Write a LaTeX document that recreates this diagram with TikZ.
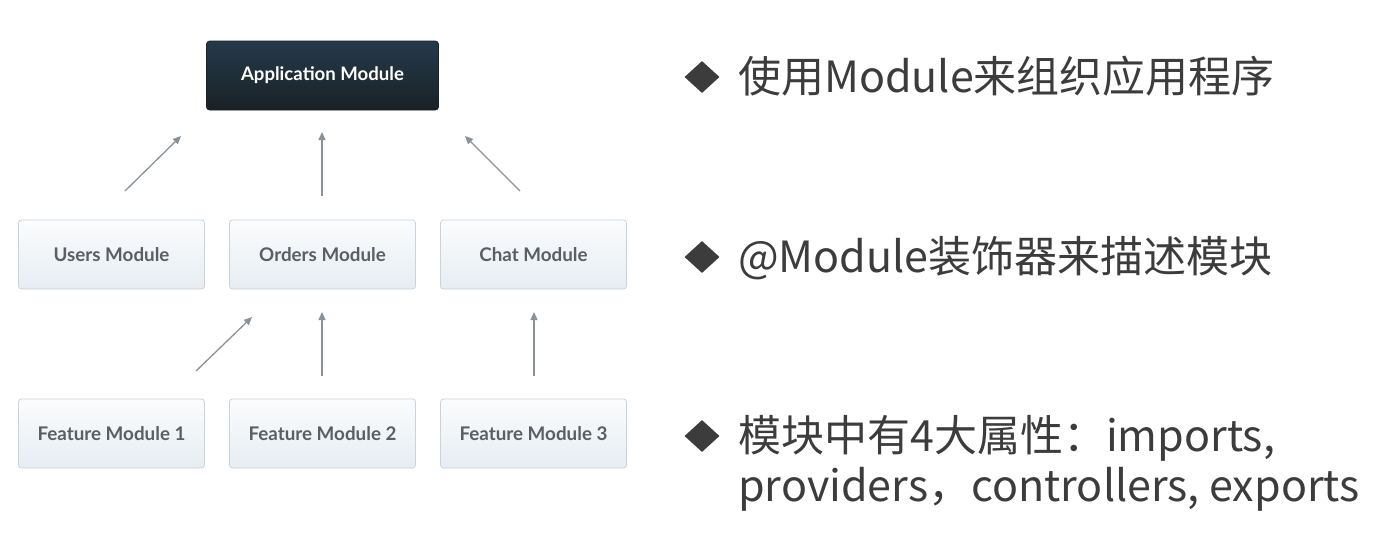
\documentclass[tikz,border=0pt]{standalone}
\usepackage{fontspec}
\usetikzlibrary{arrows.meta,shapes.geometric}
\newfontfamily\boxfont{Lato}
\newfontfamily\cjkfont{Noto Sans CJK SC}
\definecolor{boxline}{HTML}{C9D3DB}
\definecolor{boxtop}{HTML}{FBFCFD}
\definecolor{boxbot}{HTML}{E6EDF2}
\definecolor{boxtext}{HTML}{595F65}
\definecolor{apptop}{HTML}{243A4A}
\definecolor{appbot}{HTML}{1A2126}
\definecolor{arrowcol}{HTML}{8A9299}
\definecolor{bodytext}{HTML}{3C3C3C}
\tikzset{
  modbox/.style={rectangle, rounded corners=3pt, draw=boxline, line width=0.8pt,
    top color=boxtop, bottom color=boxbot, minimum width=186pt, minimum height=69pt,
    inner sep=0pt, text=boxtext, font=\boxfont\bfseries\fontsize{18.8}{21}\selectfont},
  appbox/.style={rectangle, rounded corners=3pt, draw=appbot, line width=0.6pt,
    top color=apptop, bottom color=appbot, minimum width=232pt, minimum height=69pt,
    inner sep=0pt, text=white, font=\boxfont\bfseries\fontsize{18.6}{21}\selectfont},
  upar/.style={draw=arrowcol, line width=1.3pt, -{Triangle[length=8pt,width=7pt]}},
  bullet/.style={diamond, fill=bodytext, inner sep=0pt, minimum width=35pt, minimum height=32pt},
  bodyline/.style={anchor=base west, inner sep=0pt, text=bodytext, font=\cjkfont\fontsize{43}{48}\selectfont}
}
\begin{document}
\begin{tikzpicture}[x=1pt,y=-1pt]
\useasboundingbox (0,0) rectangle (1378,550);
\fill[white] (0,0) rectangle (1378,550);
% boxes
\node[appbox] (app) at (322.5,75.5) {Application Module};
\node[modbox] (users) at (111.5,254.5) {Users Module};
\node[modbox] (orders) at (322.5,254.5) {Orders Module};
\node[modbox] (chat) at (533.5,254.5) {Chat Module};
\node[modbox] (f1) at (111.5,433.5) {Feature Module 1};
\node[modbox] (f2) at (322.5,433.5) {Feature Module 2};
\node[modbox] (f3) at (533.5,433.5) {Feature Module 3};
% arrow ends
\coordinate (a1s) at (125,191); \coordinate (a1e) at (181,136);
\coordinate (a2s) at (322,196); \coordinate (a2e) at (322,132);
\coordinate (a3s) at (520,191); \coordinate (a3e) at (465,136);
\coordinate (b1s) at (196,371); \coordinate (b1e) at (252,317);
\coordinate (b2s) at (322,376); \coordinate (b2e) at (322,312);
\coordinate (b3s) at (534,376); \coordinate (b3e) at (534,312);
\draw[upar] (a1s) -- (a1e);
\draw[upar] (a2s) -- (a2e);
\draw[upar] (a3s) -- (a3e);
\draw[upar] (b1s) -- (b1e);
\draw[upar] (b2s) -- (b2e);
\draw[upar] (b3s) -- (b3e);
% right text
\node[bullet] (d1) at (702,77) {};
\node[bullet] (d2) at (702,257) {};
\node[bullet] (d3) at (702,436) {};
\node[bodyline] (t1) at (738,92) {使用Module来组织应用程序};
\node[bodyline] (t2) at (738,272) {@Module装饰器来描述模块};
\node[bodyline] (t3) at (738,451) {模块中有4大属性：imports,};
\node[bodyline] (t4) at (738,501) {providers，controllers, exports};
\end{tikzpicture}
\end{document}
